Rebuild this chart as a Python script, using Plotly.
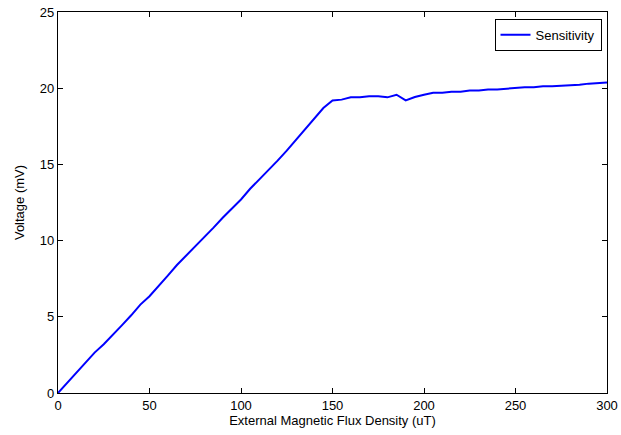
import plotly.graph_objects as go

flux_density = [0, 5, 10, 15, 20, 25, 30, 35, 40, 45, 50, 55, 60, 65, 70, 75, 80, 85, 90, 95,
                100, 105, 110, 115, 120, 125, 130, 135, 140, 145, 150, 155, 160, 165, 170, 175,
                180, 185, 190, 195, 200, 205, 210, 215, 220, 225, 230, 235, 240, 245, 250, 255,
                260, 265, 270, 275, 280, 285, 290, 295, 300]
voltage = [0.0, 0.65, 1.3, 2.0, 2.65, 3.2, 3.8, 4.45, 5.1, 5.8, 6.35, 7.0, 7.7, 8.4, 9.0, 9.6, 10.2,
           10.85, 11.5, 12.1, 12.7, 13.4, 14.0, 14.6, 15.25, 15.9, 16.6, 17.3, 17.95, 18.7, 19.2,
           19.25, 19.4, 19.4, 19.47, 19.47, 19.4, 19.57, 19.2, 19.42, 19.57, 19.7, 19.7, 19.77,
           19.77, 19.85, 19.85, 19.92, 19.92, 19.98, 20.0, 20.06, 20.06, 20.12, 20.12, 20.15,
           20.2, 20.22, 20.3, 20.32, 20.38]

font = dict(family="Liberation Sans, Arial, sans-serif", size=13, color="black")

fig = go.Figure()
fig.add_trace(go.Scatter(x=flux_density, y=voltage, mode="lines", name="Sensitivity",
                         line=dict(color="#0000ff", width=2)))

axis_common = dict(showline=True, linecolor="black", linewidth=1.3, mirror="ticks",
                   ticks="inside", ticklen=5, tickcolor="black", tickwidth=1, showgrid=False,
                   zeroline=False, tickfont=font, automargin=False)

fig.update_layout(
    width=621, height=435,
    margin=dict(l=58, r=14, t=12, b=42),
    paper_bgcolor="white", plot_bgcolor="white",
    font=font,
    xaxis=dict(range=[0, 300], dtick=50,
               title=dict(text="External Magnetic Flux Density (uT)", standoff=4, font=font),
               **axis_common),
    yaxis=dict(range=[0, 25], dtick=5,
               title=dict(text="Voltage (mV)", standoff=12, font=font),
               **axis_common),
    showlegend=True,
    legend=dict(x=0.99, y=0.982, xanchor="right", yanchor="top", bgcolor="white",
                bordercolor="black", borderwidth=1, itemwidth=30,
                font=dict(family=font["family"], size=13, color="black")),
)

fig.write_html("out.html", config={"displayModeBar": False},
               post_script="document.body.style.margin='0';document.body.style.overflow='hidden';")
